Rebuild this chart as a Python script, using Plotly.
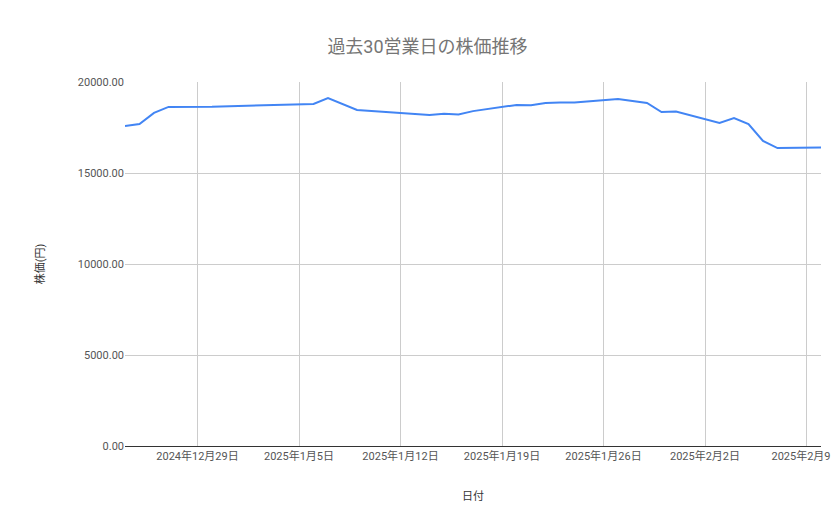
import plotly.graph_objects as go

dates = ["2024-12-24", "2024-12-25", "2024-12-26", "2024-12-27", "2024-12-30",
         "2025-01-06", "2025-01-07", "2025-01-08", "2025-01-09", "2025-01-10",
         "2025-01-14", "2025-01-15", "2025-01-16", "2025-01-17", "2025-01-20",
         "2025-01-21", "2025-01-22", "2025-01-23", "2025-01-24", "2025-01-27",
         "2025-01-28", "2025-01-29", "2025-01-30", "2025-01-31", "2025-02-03",
         "2025-02-04", "2025-02-05", "2025-02-06", "2025-02-07", "2025-02-10"]
prices = [17580, 17690, 18300, 18630, 18640,
          18790, 19120, 18790, 18460, 18400,
          18190, 18250, 18220, 18400, 18740,
          18720, 18850, 18870, 18880, 19070,
          18980, 18850, 18350, 18380, 17750,
          18020, 17690, 16760, 16370, 16400]

tick_dates = ["2024-12-29", "2025-01-05", "2025-01-12", "2025-01-19",
              "2025-01-26", "2025-02-02", "2025-02-09"]
tick_text = ["2024年12月29日", "2025年1月5日", "2025年1月12日", "2025年1月19日",
             "2025年1月26日", "2025年2月2日", "2025年2月9日"]
y_ticks = [0, 5000, 10000, 15000, 20000]

fig = go.Figure()
fig.add_trace(go.Scatter(x=dates, y=prices, mode="lines",
                         line=dict(color="#4285f4", width=2)))

fig.update_layout(
    width=839, height=519,
    font=dict(family="Roboto, Noto Sans CJK JP", color="#444"),
    title=dict(text="過去30営業日の株価推移", x=0.5, y=0.925, yanchor="middle",
               font=dict(size=18, color="#757575")),
    paper_bgcolor="white", plot_bgcolor="white",
    margin=dict(l=117, r=26, t=74, b=81),
    showlegend=False,
)
fig.update_xaxes(
    range=["2024-12-24", "2025-02-10"], tickvals=tick_dates, ticktext=tick_text,
    showgrid=True, gridcolor="#cccccc", showline=True, linecolor="#333",
    tickfont=dict(size=11, color="#555"), automargin=False,
    title=dict(text="日付", font=dict(size=11, color="#333"), standoff=30),
)
fig.update_yaxes(
    range=[0, 20000], tickvals=y_ticks, tickformat=".2f",
    showgrid=True, gridcolor="#cccccc", zeroline=False,
    tickfont=dict(size=11, color="#555"), automargin=False,
    title=dict(text="株価(円)", font=dict(size=11, color="#333"), standoff=30),
)

fig.write_html("out.html")
